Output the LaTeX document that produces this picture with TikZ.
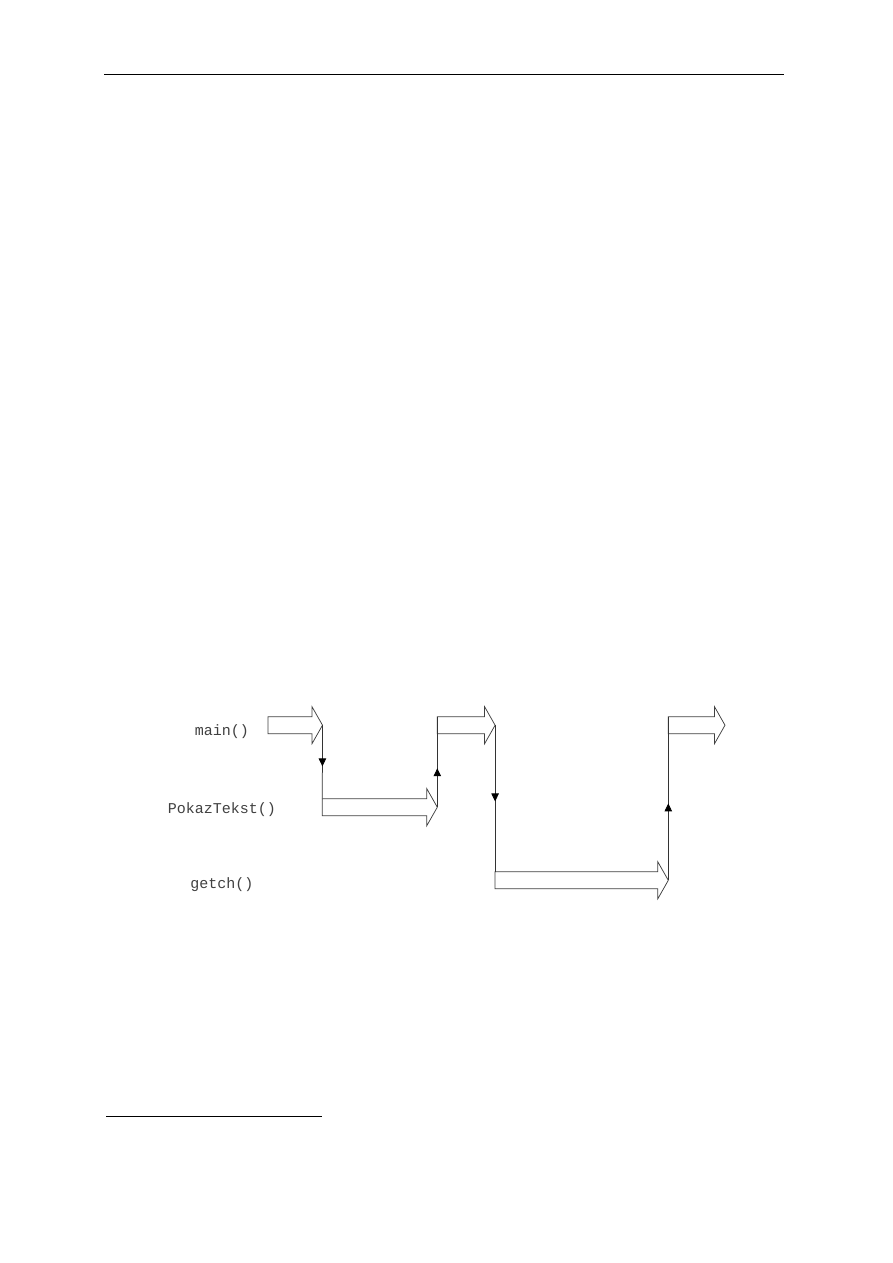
\documentclass[tikz,border=0pt]{standalone}
\usepackage{fontspec}
\setmonofont{Liberation Mono}
\usetikzlibrary{arrows.meta,decorations.markings}
\tikzset{
  px/.style={x={0.6667pt},y={-0.6667pt}},
  rule/.style={line width=0.6pt,black},
  blk/.style={draw=black!75,line width=0.5pt,fill=white,line join=miter},
  flow/.style={draw=black!80,line width=0.5pt},
  lbl/.style={font=\ttfamily\fontsize{10}{12}\selectfont,text=black!75,inner sep=0pt,anchor=center},
  midtip/.style={postaction={decorate},decoration={markings,
     mark=at position #1 with {\arrow[black]{Triangle[length=5.3pt,width=5pt]}}}}
}
% block arrow: name, left x, centre y, total length
\newcommand{\blockarrow}[4]{%
  \coordinate (#1-tail) at (#2,#3);
  \coordinate (#1-tip) at ({#2+#4},#3);
  \coordinate (#1-top) at (#2,{#3-8.5});
  \draw[blk] (#2,{#3-8.5}) -- ({#2+#4-10.5},{#3-8.5}) -- ({#2+#4-10.5},{#3-18.5})
    -- ({#2+#4},#3) -- ({#2+#4-10.5},{#3+18.5}) -- ({#2+#4-10.5},{#3+8.5})
    -- (#2,{#3+8.5}) -- cycle;}
\begin{document}
\begin{tikzpicture}[px]
\useasboundingbox (0,0) rectangle (893,1263);
% page rules
\coordinate (hl) at (104,74.3);
\coordinate (hr) at (783.5,74.3);
\draw[rule] (hl) -- (hr);
\coordinate (fl) at (106,1116);
\coordinate (fr) at (321.5,1116);
\draw[rule] (fl) -- (fr);
% labels
\node[lbl] (lmain) at (222,732) {main()};
\node[lbl] (lpokaz) at (222,810) {PokazTekst()};
\node[lbl] (lgetch) at (222,885) {getch()};
% block arrows
\blockarrow{a1}{268}{725.2}{54.5}
\blockarrow{a2}{322.3}{807.2}{115}
\blockarrow{a3}{437.3}{725.2}{57.8}
\blockarrow{a4}{495.1}{880.3}{173.2}
\blockarrow{a5}{668.3}{725.2}{56.7}
% connectors
\draw[flow,midtip=0.56] (a1-tip) -- (a2-top);
\draw[flow,midtip=0.43] (a2-tip) -- (a3-top);
\draw[flow,midtip=0.52] (a3-tip) -- (a4-top);
\draw[flow,midtip=0.47] (a4-tip) -- (a5-top);
\end{tikzpicture}
\end{document}
